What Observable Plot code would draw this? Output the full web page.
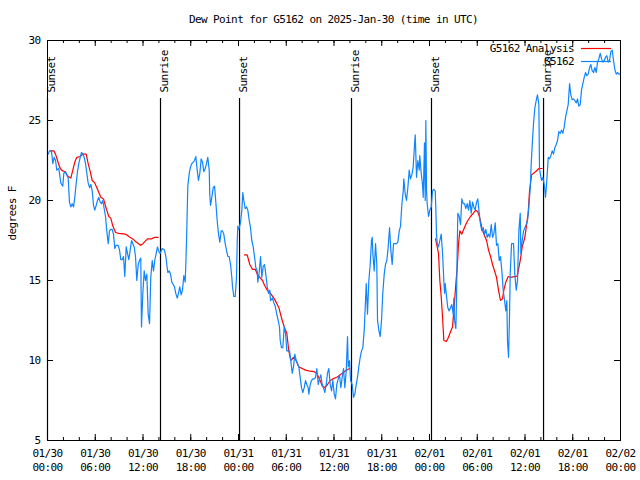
<!DOCTYPE html>
<html>
<head>
<meta charset="utf-8">
<script src="https://cdn.jsdelivr.net/npm/d3@7"></script>
<script src="https://cdn.jsdelivr.net/npm/@observablehq/plot@0.6"></script>
<style>
  body { margin: 0; background: #fff; }
  #wrap { position: relative; width: 640px; height: 480px; font-family: "DejaVu Sans Mono", monospace; font-size: 11px; letter-spacing: -0.6px; color: #000; }
  #title { position: absolute; top: 13px; left: 0; width: 667px; text-align: center; line-height: 13px; white-space: nowrap; }
  #legend { position: absolute; top: 42px; right: 29px; line-height: 13px; }
  #legend .row { display: flex; justify-content: flex-end; align-items: center; height: 13px; }
  #legend svg { margin-left: 7px; }
  #chart { position: absolute; top: 0; left: 0; }
</style>
</head>
<body>
<div id="wrap">
  <div id="chart"></div>
  <div id="title"></div>
  <div id="legend"></div>
</div>
<script>
// ---- Data (hours after 2025-01-30 00:00 UTC) ----
const titleText = "Dew Point for G5162 on 2025-Jan-30 (time in UTC)";
const yLabel = "degrees F";
const yTickValues = [5, 10, 15, 20, 25, 30];

const obsName = "G5162";
const obsHours = [0.09,0.25,0.50,0.67,0.84,1.01,1.17,1.42,1.67,1.92,2.05,2.26,2.43,2.60,2.76,2.93,3.10,3.27,3.43,3.61,3.77,3.93,4.11,4.27,4.44,4.61,4.78,4.94,5.11,5.28,5.44,5.62,5.78,5.94,6.12,6.28,6.45,6.62,6.79,6.95,7.12,7.29,7.45,7.63,7.79,7.95,8.13,8.29,8.46,8.63,8.88,9.05,9.21,9.39,9.55,9.71,9.89,10.05,10.22,10.39,10.56,10.72,10.89,11.06,11.22,11.40,11.56,11.72,11.81,11.98,12.15,12.31,12.48,12.65,12.82,12.98,13.16,13.32,13.48,13.66,13.82,13.99,14.16,14.41,14.70,14.87,15.04,15.12,15.29,15.46,15.62,15.80,15.96,16.12,16.30,16.46,16.62,16.80,16.96,17.13,17.30,17.38,17.47,17.55,17.63,17.81,17.97,18.13,18.31,18.47,18.64,18.81,18.97,19.14,19.31,19.48,19.64,19.82,19.98,20.14,20.32,20.39,20.48,20.65,20.82,20.99,21.15,21.32,21.49,21.65,21.83,21.99,22.15,22.33,22.49,22.66,22.83,23.00,23.16,23.25,23.41,23.59,23.75,23.84,23.91,24.04,24.25,24.42,24.54,24.67,24.84,25.01,25.17,25.35,25.51,25.67,25.85,26.01,26.18,26.35,26.43,26.60,26.77,26.93,27.11,27.27,27.43,27.61,27.77,27.93,28.02,28.27,28.44,28.61,28.81,28.99,29.15,29.24,29.40,29.57,29.74,29.91,30.07,30.25,30.41,30.57,30.75,30.91,31.08,31.25,31.42,31.58,31.75,31.92,32.08,32.26,32.42,32.58,32.76,32.84,33.01,33.17,33.34,33.51,33.68,33.84,34.02,34.18,34.34,34.52,34.68,34.85,35.02,35.18,35.35,35.52,35.69,35.85,36.03,36.19,36.35,36.53,36.69,36.86,37.03,37.20,37.36,37.54,37.70,37.79,37.95,38.08,38.29,38.45,38.62,38.79,38.95,39.12,39.29,39.46,39.62,39.80,39.96,40.05,40.21,40.38,40.55,40.71,40.80,40.88,41.05,41.22,41.38,41.47,41.63,41.81,41.97,42.13,42.31,42.47,42.64,42.81,42.98,43.14,43.31,43.48,43.64,43.86,44.02,44.20,44.36,44.52,44.70,44.77,44.95,45.11,45.28,45.45,45.61,45.78,45.95,46.12,46.21,46.37,46.53,46.71,46.78,46.96,47.12,47.21,47.37,47.46,47.54,47.63,47.71,47.88,48.04,48.22,48.38,48.54,48.72,48.79,48.88,48.97,49.13,49.30,49.47,49.64,49.80,49.89,49.98,50.14,50.30,50.48,50.64,50.80,50.98,51.06,51.14,51.31,51.40,51.48,51.56,51.73,51.90,52.06,52.24,52.40,52.56,52.74,52.90,53.07,53.24,53.41,53.57,53.74,53.91,54.07,54.25,54.41,54.58,54.75,54.91,55.08,55.25,55.42,55.58,55.76,55.92,56.08,56.26,56.42,56.59,56.76,56.92,57.09,57.26,57.43,57.59,57.72,57.80,57.93,58.06,58.14,58.31,58.56,58.72,58.90,59.06,59.23,59.40,59.48,59.65,59.82,59.98,60.15,60.32,60.48,60.66,60.78,60.91,61.07,61.24,61.41,61.57,61.74,61.82,61.91,62.08,62.24,62.42,62.58,62.74,62.92,63.08,63.25,63.42,63.58,63.75,63.92,64.09,64.25,64.43,64.59,64.75,64.93,65.09,65.26,65.43,65.60,65.76,65.93,66.10,66.26,66.44,66.60,66.76,66.94,67.10,67.27,67.44,67.61,67.77,67.94,68.11,68.27,68.45,68.61,68.78,68.95,69.11,69.28,69.45,69.62,69.78,69.96,70.12,70.28,70.46,70.62,70.79,70.96,71.12,71.29,71.46,71.62,71.79,71.97];
const obsValues = [22.9,23.1,23.1,22.3,22.7,22.5,21.9,22.0,21.1,20.9,21.7,21.8,21.6,21.4,19.9,19.6,19.8,19.6,20.2,21.1,21.8,22.3,22.7,23.0,22.9,22.7,22.3,21.7,21.1,20.8,21.0,20.6,19.7,19.4,19.7,20.0,20.2,19.9,19.8,20.0,19.5,19.0,18.1,17.3,18.1,18.2,18.2,17.9,17.0,17.2,17.2,16.9,16.3,16.3,16.5,15.25,17.1,16.7,16.3,16.9,17.5,17.3,17.1,16.5,15.0,16.0,16.25,16.4,12.1,14.2,15.6,15.0,15.4,12.9,12.3,15.2,16.25,15.6,16.25,16.7,17.1,16.8,16.7,17.0,16.9,16.5,15.8,15.5,15.6,15.4,14.9,14.75,14.6,14.2,13.9,14.2,14.6,14.1,14.4,15.3,14.9,16.0,17.5,19.2,20.9,21.7,22.1,22.3,22.4,22.5,22.75,21.9,21.25,21.7,22.6,22.4,21.8,22.0,22.3,22.7,21.9,20.4,19.7,20.2,20.8,20.9,19.9,18.75,17.9,17.4,18.1,18.1,17.9,17.3,16.9,16.5,16.5,16.0,15.2,14.6,14.0,14.0,15.2,17.4,18.4,18.2,18.6,19.4,20.5,20.0,19.5,19.6,19.4,18.75,18.3,17.5,17.1,16.5,15.8,15.6,14.9,15.5,16.5,15.2,15.9,16.0,15.4,14.6,14.2,14.4,13.75,13.9,13.6,13.4,12.9,12.5,12.1,11.25,10.8,10.8,12.1,11.7,10.6,10.6,10.6,10.0,9.2,9.6,10.4,10.0,9.8,9.6,8.95,8.3,8.0,8.3,8.75,8.5,8.3,7.9,8.5,8.75,8.85,8.85,8.95,9.5,8.5,8.85,9.1,8.5,8.3,8.0,8.5,9.2,9.5,8.5,8.1,8.75,7.9,7.6,8.5,8.85,9.1,8.3,8.95,9.5,8.3,9.4,11.5,9.6,10.0,8.75,8.5,7.7,7.9,8.5,8.95,9.6,10.2,10.6,10.8,11.9,13.75,14.8,12.9,15.0,16.0,17.5,17.7,16.7,15.6,17.3,16.0,12.5,11.9,11.5,12.5,14.2,15.4,16.0,16.25,17.1,18.3,16.9,16.0,17.3,17.3,17.3,17.4,18.1,18.4,19.7,20.6,21.35,20.4,20.0,20.8,21.9,21.35,21.6,22.1,23.5,24.1,21.45,22.5,21.9,22.8,21.7,21.0,20.2,23.6,20.0,25.0,20.6,19.8,19.0,19.4,19.6,20.6,20.7,20.6,19.6,17.9,17.3,17.1,17.5,17.9,16.7,15.0,14.2,14.8,14.0,13.3,13.1,13.3,13.5,12.9,13.9,12.5,12.0,14.0,16.9,19.2,19.0,18.5,20.1,19.8,19.8,19.5,19.8,19.4,20.0,19.2,19.9,19.6,19.4,19.9,20.1,19.2,18.5,18.1,18.3,17.9,18.2,17.7,17.9,17.7,18.5,17.7,17.9,18.6,17.2,17.3,16.25,16.5,15.6,14.4,13.75,13.1,13.75,11.25,10.2,12.9,15.4,17.3,17.3,15.4,14.4,15.0,18.1,19.2,16.7,17.5,18.1,18.3,18.5,18.75,19.6,20.8,22.3,23.5,24.8,25.8,26.25,26.6,26.0,22.1,21.7,21.25,21.45,21.0,20.2,21.25,22.7,22.6,22.8,23.1,22.9,23.3,23.5,23.75,24.3,24.2,24.4,24.2,24.6,25.2,25.6,26.0,27.3,26.6,26.3,26.35,26.25,26.1,26.35,25.9,26.0,26.9,27.3,27.7,28.0,27.8,27.9,28.3,28.5,28.1,28.0,28.3,28.0,28.65,28.85,29.2,28.85,28.65,28.75,28.95,29.05,28.65,28.75,29.3,29.4,28.75,28.2,27.9,28.0,27.9,27.9];

const anaName = "G5162 Analysis";
// null marks a gap in the analysis series
const anaHours = [0.38,0.79,1.01,1.26,1.51,1.76,2.17,2.60,2.93,3.18,3.43,3.68,4.11,4.44,4.86,5.11,5.37,5.62,5.94,6.28,6.45,6.70,7.04,7.38,7.70,7.95,8.21,8.55,8.96,9.80,10.22,10.72,11.15,11.69,11.98,12.57,13.07,13.48,13.91,
  19.0,
  24.75,25.09,25.42,25.76,26.10,26.35,26.68,27.02,27.27,27.61,28.02,28.44,28.78,29.07,29.49,29.82,30.07,30.32,30.57,30.91,31.25,31.58,32.01,32.42,33.01,33.51,33.84,34.18,34.52,34.85,35.18,35.52,35.85,36.35,36.78,37.28,37.61,37.95,
  43.0,
  48.76,48.97,49.13,49.30,49.47,49.64,49.80,50.14,50.39,50.64,50.89,51.06,51.31,51.48,51.65,51.81,52.06,52.31,52.56,52.82,53.15,53.49,53.82,54.07,54.32,54.58,54.83,55.17,55.42,55.67,55.92,56.17,56.42,56.67,56.92,57.17,57.34,57.59,57.89,58.18,59.02,59.23,59.40,59.65,59.98,60.15,60.40,60.57,60.74,60.82,61.32,61.74,62.16];
const anaValues = [23.1,23.1,22.9,22.5,22.1,21.9,21.8,21.5,21.4,21.9,22.4,22.7,22.75,22.9,22.9,22.3,21.8,21.25,21.1,20.7,20.5,20.2,20.1,19.5,19.0,18.9,18.4,18.0,17.95,17.9,17.75,17.6,17.4,17.2,17.3,17.6,17.6,17.7,17.7,
  null,
  16.6,16.6,16.0,15.7,15.7,15.4,15.2,15.0,14.7,14.4,14.2,13.9,13.6,13.3,12.5,12.0,11.7,10.6,10.0,10.2,10.0,9.6,9.5,9.4,9.33,9.3,9.2,8.85,8.4,8.3,8.5,8.75,8.85,8.95,9.1,9.3,9.4,9.5,
  null,
  17.6,17.1,16.7,15.0,14.0,12.7,11.25,11.2,11.45,11.8,12.1,13.1,14.8,15.8,17.3,18.1,17.9,18.2,18.5,18.75,19.0,19.2,19.4,19.3,18.9,18.3,17.9,17.5,16.9,16.5,16.0,15.6,15.2,14.4,13.75,13.85,14.4,14.9,15.25,15.2,15.27,15.8,16.25,17.1,17.7,18.3,19.2,20.6,21.25,21.6,21.8,22.0,22.0];

const sunLabels = ["Sunset","Sunrise","Sunset","Sunrise","Sunset","Sunrise"];
const sunHours = [0.0, 14.2, 24.13, 38.2, 48.25, 62.33];

const obsColor = "#0f84ff";
const anaColor = "#ff0000";

// ---- Build tables ----
const START = Date.UTC(2025, 0, 30);
const END = Date.UTC(2025, 1, 2);
const toDate = h => new Date(START + h * 3600000);
const obs = obsHours.map((h, i) => ({time: toDate(h), value: obsValues[i]}));
const ana = anaHours.map((h, i) => ({time: toDate(h), value: anaValues[i] == null ? NaN : anaValues[i]}));
const sun = sunHours.map((h, i) => ({time: toDate(h), label: sunLabels[i]}));

const majorTicks = d3.utcHour.every(6).range(new Date(START), new Date(END + 1));
const minorTicks = d3.utcHour.every(2).range(new Date(START), new Date(END + 1));

const chart = Plot.plot({
  width: 640,
  height: 480,
  marginLeft: 47,
  marginRight: 20,
  marginTop: 40,
  marginBottom: 40,
  style: {fontFamily: "DejaVu Sans Mono, monospace", fontSize: "11px", letterSpacing: "-0.6px", background: "#fff", color: "#000", overflow: "visible"},
  x: {type: "utc", domain: [new Date(START), new Date(END)]},
  y: {domain: [5, 30]},
  marks: [
    // inward tick marks on all four sides
    Plot.ruleX(minorTicks, {x: d => d, insetTop: 397, stroke: "#000"}),
    Plot.ruleX(minorTicks, {x: d => d, insetBottom: 397, stroke: "#000"}),
    Plot.ruleX(majorTicks, {x: d => d, insetTop: 394, stroke: "#000"}),
    Plot.ruleX(majorTicks, {x: d => d, insetBottom: 394, stroke: "#000"}),
    Plot.ruleY(yTickValues, {y: d => d, insetRight: 567, stroke: "#000"}),
    Plot.ruleY(yTickValues, {y: d => d, insetLeft: 567, stroke: "#000"}),
    // sunrise / sunset
    Plot.ruleX(sun, {x: "time", insetTop: 58, stroke: "#000", strokeWidth: 1.2}),
    Plot.text(sun, {x: "time", text: "label", frameAnchor: "top", dy: 52, rotate: -90, textAnchor: "start", fill: "#000"}),
    // series
    Plot.line(ana, {x: "time", y: "value", stroke: anaColor, strokeWidth: 1.2}),
    Plot.line(obs, {x: "time", y: "value", stroke: obsColor, strokeWidth: 1.2}),
    Plot.frame({stroke: "#000"}),
    Plot.axisX({ticks: majorTicks, tickSize: 0, tickPadding: 7, tickFormat: d3.utcFormat("%m/%d\n%H:%M"), label: null, lineHeight: 1.25, fill: "#000"}),
    Plot.axisY({ticks: yTickValues, tickSize: 0, tickPadding: 7, label: null, fill: "#000"}),
    Plot.text([yLabel], {text: d => d, frameAnchor: "left", rotate: -90, dx: -35, fill: "#000"})
  ]
});
document.getElementById("chart").appendChild(chart);
document.getElementById("title").textContent = titleText;

const legend = document.getElementById("legend");
[[anaName, anaColor], [obsName, obsColor]].forEach(([name, color]) => {
  const row = document.createElement("div");
  row.className = "row";
  const span = document.createElement("span");
  span.textContent = name;
  row.appendChild(span);
  const s = d3.create("svg").attr("width", 30).attr("height", 13);
  s.append("line").attr("x1", 0).attr("x2", 30).attr("y1", 6.5).attr("y2", 6.5).attr("stroke", color).attr("stroke-width", 1.2);
  row.appendChild(s.node());
  legend.appendChild(row);
});
</script>
</body>
</html>
